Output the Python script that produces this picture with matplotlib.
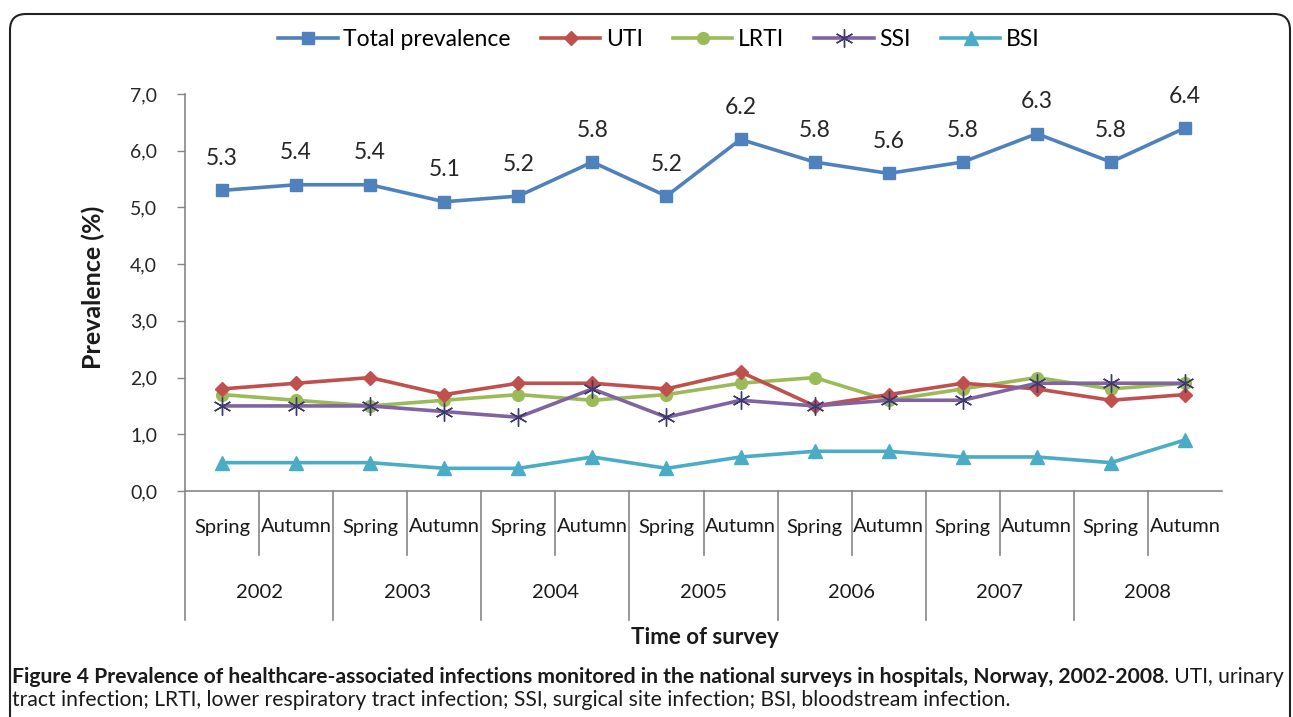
import matplotlib
matplotlib.use("Agg")
import matplotlib.pyplot as plt
import matplotlib.patches as mpatches
from matplotlib.transforms import IdentityTransform, blended_transform_factory
import numpy as np

plt.rcParams['font.family'] = ['Lato', 'DejaVu Sans']

years = ["2002", "2003", "2004", "2005", "2006", "2007", "2008"]
seasons = ["Spring", "Autumn"]
total = [5.3, 5.4, 5.4, 5.1, 5.2, 5.8, 5.2, 6.2, 5.8, 5.6, 5.8, 6.3, 5.8, 6.4]
uti   = [1.8, 1.9, 2.0, 1.7, 1.9, 1.9, 1.8, 2.1, 1.5, 1.7, 1.9, 1.8, 1.6, 1.7]
lrti  = [1.7, 1.6, 1.5, 1.6, 1.7, 1.6, 1.7, 1.9, 2.0, 1.6, 1.8, 2.0, 1.8, 1.9]
ssi   = [1.5, 1.5, 1.5, 1.4, 1.3, 1.8, 1.3, 1.6, 1.5, 1.6, 1.6, 1.9, 1.9, 1.9]
bsi   = [0.5, 0.5, 0.5, 0.4, 0.4, 0.6, 0.4, 0.6, 0.7, 0.7, 0.6, 0.6, 0.5, 0.9]
yticks = [0.0, 1.0, 2.0, 3.0, 4.0, 5.0, 6.0, 7.0]

W, H = 1293, 717
fig = plt.figure(figsize=(W / 100, H / 100), dpi=100)
ax = fig.add_axes([185 / W, 1 - 491 / H, (1222 - 185) / W, (491 - 94) / H])

n = len(total)
x = np.arange(n) + 0.5
lw = 2.6
ax.plot(x, total, color='#4F81BD', lw=lw, marker='s', ms=8.5, label='Total prevalence', zorder=5)
ax.plot(x, uti, color='#C0504D', lw=lw, marker='D', ms=7.5, label='UTI', zorder=4)
ax.plot(x, lrti, color='#9BBB59', lw=lw, marker='o', ms=8.5, label='LRTI', zorder=3)
ax.plot(x, ssi, color='#8064A2', lw=lw, marker=(6, 2, 0), ms=13, mew=1.0,
        mec='#3E3A6E', label='SSI', zorder=4)
ax.plot(x, bsi, color='#4BACC6', lw=lw, marker='^', ms=10, label='BSI', zorder=3)

for xi, v in zip(x, total):
    ax.annotate(f"{v:.1f}", (xi, v), xytext=(0, 23), textcoords='offset points',
                ha='center', va='center', fontsize=16.5, color='#262626')

ax.set_xlim(0, n)
ax.set_ylim(0, 7)
ax.set_yticks(yticks)
ax.set_yticklabels([f"{t:.1f}".replace('.', ',') for t in yticks], fontsize=14, color='#262626')
ax.tick_params(axis='y', direction='out', length=6, width=1, color='#868686', pad=14)
ax.set_xticks([])
for s in ['top', 'right']:
    ax.spines[s].set_visible(False)
for s in ['left', 'bottom']:
    ax.spines[s].set_color('#868686')
    ax.spines[s].set_linewidth(1.2)

tr = blended_transform_factory(ax.transData, ax.transAxes)
ax_h = 491 - 94
season_bot = -(555 - 491) / ax_h
year_bot = -(620 - 491) / ax_h
for i in range(n):
    ax.text(i + 0.5, -(527 - 491) / ax_h, seasons[i % 2], transform=tr, ha='center', va='center',
            fontsize=14.5, color='#1a1a1a')
    if i % 2 == 1:
        ax.plot([i, i], [0, season_bot], transform=tr, color='#868686', lw=1.2, clip_on=False)
    else:
        ax.plot([i, i], [0, year_bot], transform=tr, color='#868686', lw=1.2, clip_on=False)
for j, yr in enumerate(years):
    ax.text(2 * j + 1, -(592 - 491) / ax_h, yr, transform=tr, ha='center', va='center',
            fontsize=14.5, color='#1a1a1a')

fig.text(705 / W, 1 - 638 / H, "Time of survey", ha='center', va='center',
         fontsize=16, fontweight='bold', color='#1a1a1a')
fig.text(93 / W, 1 - 287 / H, "Prevalence (%)", ha='center', va='center', rotation=90,
         fontsize=18, fontweight='bold', color='#1a1a1a')

fig.legend(loc='center', bbox_to_anchor=(659 / W, 1 - 40 / H), ncol=5, frameon=False,
           fontsize=16.5, handlelength=2.6, columnspacing=1.3, handletextpad=0.25)

# frame
fig.patches.append(mpatches.FancyBboxPatch((10, -30), 1280, H - 14 + 30,
                                           boxstyle="round,pad=0,rounding_size=16",
                                           transform=IdentityTransform(), fill=False,
                                           edgecolor='#222222', lw=1.5))

# caption
bold_part = "Figure 4 Prevalence of healthcare-associated infections monitored in the national surveys in hospitals, Norway, 2002-2008"
normal_part = ". UTI, urinary"
line2 = "tract infection; LRTI, lower respiratory tract infection; SSI, surgical site infection; BSI, bloodstream infection."
fig.canvas.draw()
renderer = fig.canvas.get_renderer()
fs = 12
t1 = fig.text(12 / W, 1 - 677 / H, bold_part, fontsize=fs, fontweight='bold', va='center', color='#1a1a1a')
t2 = fig.text(0, 1 - 677 / H, normal_part, fontsize=fs, va='center', color='#1a1a1a')
w1 = t1.get_window_extent(renderer).width
w2 = t2.get_window_extent(renderer).width
scale = (1278 - 12) / (w1 + w2)
fs2 = fs * scale
t1.set_fontsize(fs2)
t2.set_fontsize(fs2)
w1 = t1.get_window_extent(renderer).width
t2.set_x((12 + w1) / W)
fig.text(12 / W, 1 - 700 / H, line2, fontsize=fs2, va='center', color='#1a1a1a')

fig.savefig("out.png", dpi=100)
